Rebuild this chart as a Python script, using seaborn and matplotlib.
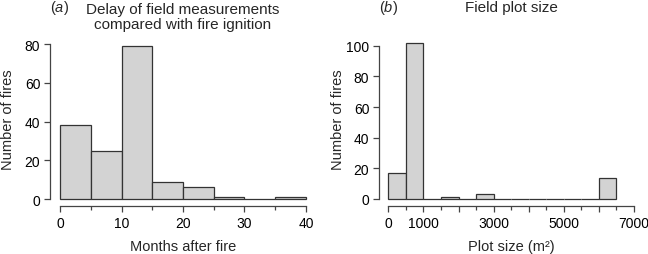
import numpy as np
import matplotlib
matplotlib.use("Agg")
import matplotlib.pyplot as plt
import seaborn as sns

# Panel (a): delay of field measurements (months after fire)
delay_edges = [0, 5, 10, 15, 20, 25, 30, 35, 40]
delay_counts = [38, 25, 79, 9, 6, 1, 0, 1]

# Panel (b): field plot size (m2)
size_edges = [0, 500, 1000, 1500, 2000, 2500, 3000, 3500, 4000,
              4500, 5000, 5500, 6000, 6500]
size_counts = [17, 102, 0, 1, 0, 3, 0, 0, 0, 0, 0, 0, 14]

sns.set_style("ticks")
plt.rcParams["font.family"] = ["Liberation Sans", "DejaVu Sans"]
plt.rcParams["font.size"] = 10.5
plt.rcParams["mathtext.fontset"] = "custom"
plt.rcParams["mathtext.rm"] = "Liberation Sans"
plt.rcParams["mathtext.it"] = "Liberation Sans:italic"

W, H = 648, 255
fig = plt.figure(figsize=(W / 100, H / 100), dpi=100)

fill = "#d3d3d3"
edge = "#333333"
axis_col = "#444444"
px = 72 / 100  # one pixel in points


def make_axes(left, right, top, bottom):
    return fig.add_axes([left / W, (H - bottom) / H, (right - left) / W, (bottom - top) / H])


def style(ax, xb, yb):
    sns.despine(ax=ax)
    for s in ("left", "bottom"):
        ax.spines[s].set_color(axis_col)
        ax.spines[s].set_linewidth(0.9)
    ax.spines["bottom"].set_bounds(*xb)
    ax.spines["left"].set_bounds(*yb)
    ax.tick_params(which="both", direction="out", color=axis_col, width=0.9,
                   labelsize=10, labelcolor="black")
    ax.tick_params(which="major", length=4, pad=3)
    ax.tick_params(which="minor", length=3)
    ax.set_facecolor("white")


# ---- panel a ----
ax1 = make_axes(50, 316, 40, 207)
centers = (np.array(delay_edges[:-1]) + np.array(delay_edges[1:])) / 2
sns.histplot(x=centers, weights=delay_counts, bins=delay_edges, ax=ax1,
             color=fill, edgecolor=edge, linewidth=0.9, alpha=1)
ax1.set_xlim(-1.63, 41.63)
ax1.set_ylim(-3.6, 82.6)
ax1.set_xticks([0, 10, 20, 30, 40])
ax1.set_xticks([5, 15, 25, 35], minor=True)
ax1.set_yticks([0, 20, 40, 60, 80])
style(ax1, (0, 40), (0, 80))
ax1.set_xlabel("Months after fire", fontsize=10.5)
ax1.set_ylabel("Number of fires", fontsize=10.5)
ax1.xaxis.set_label_coords((183 - 50) / 266, (207 - 247) / 167)
ax1.yaxis.set_label_coords((8 - 50) / 266, (207 - 120) / 167)
ax1.xaxis.label.set_va("center")
ax1.yaxis.label.set_va("center")
ax1.set_title("Delay of field measurements\ncompared with fire ignition",
              fontsize=11, pad=11 * px, linespacing=1.05, x=(183 - 50) / 266)
fig.text(50 / W, 1 - 12 / H, "($a$)", fontsize=10.5, va="baseline", ha="left")

# ---- panel b ----
ax2 = make_axes(379, 644, 40, 207)
centers_b = (np.array(size_edges[:-1]) + np.array(size_edges[1:])) / 2
sns.histplot(x=centers_b, weights=size_counts, bins=size_edges, ax=ax2,
             color=fill, edgecolor=edge, linewidth=0.9, alpha=1)
ax2.set_xlim(-265, 7285)
ax2.set_ylim(-4.57, 104.4)
ax2.set_xticks(np.arange(0, 7001, 1000))
ax2.set_xticklabels(["0", "1000", "", "3000", "", "5000", "", "7000"])
ax2.set_xticks(np.arange(500, 7000, 1000), minor=True)
ax2.set_yticks([0, 20, 40, 60, 80, 100])
style(ax2, (0, 7000), (0, 100))
ax2.set_xlabel("Plot size (m²)", fontsize=10.5)
ax2.set_ylabel("Number of fires", fontsize=10.5)
ax2.xaxis.set_label_coords((511 - 379) / 265, (207 - 247) / 167)
ax2.yaxis.set_label_coords((338 - 379) / 265, (207 - 120) / 167)
ax2.xaxis.label.set_va("center")
ax2.yaxis.label.set_va("center")
ax2.set_title("Field plot size", fontsize=11, pad=28 * px, x=(511 - 379) / 265)
fig.text(379 / W, 1 - 12 / H, "($b$)", fontsize=10.5, va="baseline", ha="left")

fig.savefig("out.png", dpi=100, facecolor="white")
